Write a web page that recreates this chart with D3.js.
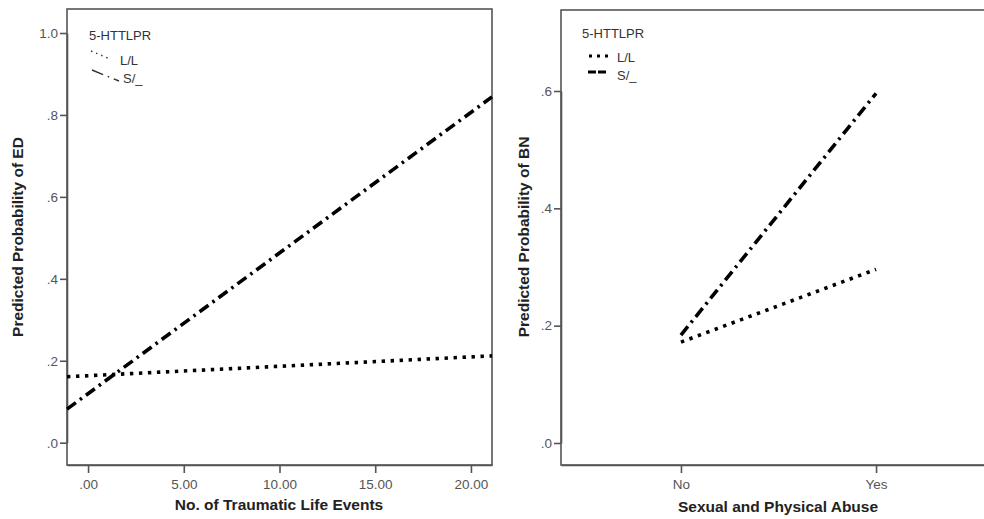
<!DOCTYPE html>
<html>
<head>
<meta charset="utf-8">
<script src="https://cdn.jsdelivr.net/npm/d3@7"></script>
<style>
  body { margin: 0; background: #fff; }
  text { font-family: Arial, "Liberation Sans", sans-serif; }
</style>
</head>
<body>
<div id="chart"></div>
<script>
// Left panel: traumatic life events -> predicted probability of ED
var eventsX = [-1.1, 21.1];
var edLL = [0.161, 0.212];
var edS = [0.082, 0.844];
var edTicksX = [0, 5, 10, 15, 20];
var edTicksY = [0, 0.2, 0.4, 0.6, 0.8, 1.0];

// Right panel: abuse -> predicted probability of BN
var abuseCats = ["No", "Yes"];
var bnLL = [0.172, 0.296];
var bnS = [0.184, 0.596];
var bnTicksY = [0, 0.2, 0.4, 0.6];

var groups = ["L/L", "S/_"];

var W = 984, H = 519;
var svg = d3.select("#chart").append("svg")
  .attr("width", W)
  .attr("height", H);

var frameColor = "#555";
var dotted = "3.4,5.6";
var dashDot = "11,5,2.5,5";
var lw = 3.6;

function fmtY(d) {
  if (d === 1) return "1.0";
  return d3.format(".1f")(d).replace(/^0/, "");
}
function fmtX(d) {
  return d3.format(".2f")(d).replace(/^0/, "");
}

// ---------- left panel ----------
var x1 = d3.scaleLinear().domain(eventsX).range([67, 492]);
var y1 = d3.scaleLinear().domain([0, 1]).range([442.7, 33]);
var top1 = 9, bottom1 = 465;

var g1 = svg.append("g");

g1.append("rect")
  .attr("x", 67).attr("y", top1)
  .attr("width", 492 - 67).attr("height", bottom1 - top1)
  .attr("fill", "none").attr("stroke", frameColor).attr("stroke-width", 1.6);

var yAxis1 = d3.axisLeft(y1).tickValues(edTicksY).tickFormat(fmtY).tickSize(7).tickSizeOuter(0).tickPadding(2);
g1.append("g").attr("transform", "translate(67,0)").call(yAxis1);

var xAxis1 = d3.axisBottom(x1).tickValues(edTicksX).tickFormat(fmtX).tickSize(8).tickSizeOuter(0).tickPadding(6);
g1.append("g").attr("transform", "translate(0," + bottom1 + ")").call(xAxis1);

var line1 = d3.line().x(function (d, i) { return x1(eventsX[i]); }).y(function (d) { return y1(d); });

g1.append("path").datum(edLL).attr("d", line1)
  .attr("fill", "none").attr("stroke", "#000").attr("stroke-width", lw)
  .attr("stroke-dasharray", dotted);
g1.append("path").datum(edS).attr("d", line1)
  .attr("fill", "none").attr("stroke", "#000").attr("stroke-width", lw)
  .attr("stroke-dasharray", dashDot);

g1.append("text").attr("x", 279).attr("y", 510)
  .attr("text-anchor", "middle").attr("font-size", 15.5).attr("font-weight", "bold")
  .attr("fill", "#222").text("No. of Traumatic Life Events");
g1.append("text").attr("transform", "translate(23,237) rotate(-90)")
  .attr("text-anchor", "middle").attr("font-size", 15.5).attr("font-weight", "bold")
  .attr("fill", "#222").text("Predicted Probability of ED");

// odd diagonal legend of the left panel
var leg1 = g1.append("g");
leg1.append("text").attr("x", 89).attr("y", 40).attr("font-size", 13).attr("fill", "#333").text("5-HTTLPR");
leg1.append("line").attr("x1", 91).attr("y1", 51).attr("x2", 110).attr("y2", 59)
  .attr("stroke", "#333").attr("stroke-width", 1.4).attr("stroke-dasharray", "1.5,4");
leg1.append("text").attr("x", 120).attr("y", 65).attr("font-size", 13).attr("fill", "#333").text(groups[0]);
leg1.append("line").attr("x1", 92).attr("y1", 70).attr("x2", 119).attr("y2", 81)
  .attr("stroke", "#333").attr("stroke-width", 1.4).attr("stroke-dasharray", "12,5,1.5,5");
leg1.append("text").attr("x", 123).attr("y", 83).attr("font-size", 13).attr("fill", "#333").text(groups[1]);

// ---------- right panel ----------
var left2 = 561, right2 = 996, top2 = 10, bottom2 = 465;
var x2 = d3.scalePoint().domain(abuseCats).range([left2, right2]).padding(0.615);
var y2 = d3.scaleLinear().domain([0, 0.6]).range([443, 91]);

var g2 = svg.append("g");

g2.append("rect")
  .attr("x", left2).attr("y", top2)
  .attr("width", right2 - left2).attr("height", bottom2 - top2)
  .attr("fill", "none").attr("stroke", frameColor).attr("stroke-width", 1.6);

var yAxis2 = d3.axisLeft(y2).tickValues(bnTicksY).tickFormat(fmtY).tickSize(7).tickSizeOuter(0).tickPadding(2);
g2.append("g").attr("transform", "translate(" + left2 + ",0)").call(yAxis2);

var xAxis2 = d3.axisBottom(x2).tickSize(8).tickSizeOuter(0).tickPadding(6);
g2.append("g").attr("transform", "translate(0," + bottom2 + ")").call(xAxis2);

var line2 = d3.line().x(function (d, i) { return x2(abuseCats[i]); }).y(function (d) { return y2(d); });

g2.append("path").datum(bnLL).attr("d", line2)
  .attr("fill", "none").attr("stroke", "#000").attr("stroke-width", lw)
  .attr("stroke-dasharray", dotted);
g2.append("path").datum(bnS).attr("d", line2)
  .attr("fill", "none").attr("stroke", "#000").attr("stroke-width", lw)
  .attr("stroke-dasharray", dashDot);

g2.append("text").attr("x", 778).attr("y", 512)
  .attr("text-anchor", "middle").attr("font-size", 15.5).attr("font-weight", "bold")
  .attr("fill", "#222").text("Sexual and Physical Abuse");
g2.append("text").attr("transform", "translate(529,237) rotate(-90)")
  .attr("text-anchor", "middle").attr("font-size", 15.5).attr("font-weight", "bold")
  .attr("fill", "#222").text("Predicted Probability of BN");

var leg2 = g2.append("g");
leg2.append("text").attr("x", 582).attr("y", 38).attr("font-size", 13).attr("fill", "#333").text("5-HTTLPR");
leg2.append("line").attr("x1", 589).attr("y1", 56).attr("x2", 612).attr("y2", 56)
  .attr("stroke", "#000").attr("stroke-width", 3.2).attr("stroke-dasharray", "3,5");
leg2.append("text").attr("x", 617).attr("y", 62).attr("font-size", 13).attr("fill", "#333").text(groups[0]);
leg2.append("line").attr("x1", 588).attr("y1", 72).attr("x2", 607).attr("y2", 72)
  .attr("stroke", "#000").attr("stroke-width", 3.2).attr("stroke-dasharray", "8,2");
leg2.append("text").attr("x", 617).attr("y", 80).attr("font-size", 13).attr("fill", "#333").text(groups[1]);

// axis styling
svg.selectAll(".domain").attr("stroke", frameColor).attr("stroke-width", 1.6);
svg.selectAll(".tick line").attr("stroke", frameColor).attr("stroke-width", 1.6);
svg.selectAll(".tick text").attr("font-size", 13.5).attr("fill", "#555")
  .attr("font-family", "Arial, 'Liberation Sans', sans-serif");
</script>
</body>
</html>
